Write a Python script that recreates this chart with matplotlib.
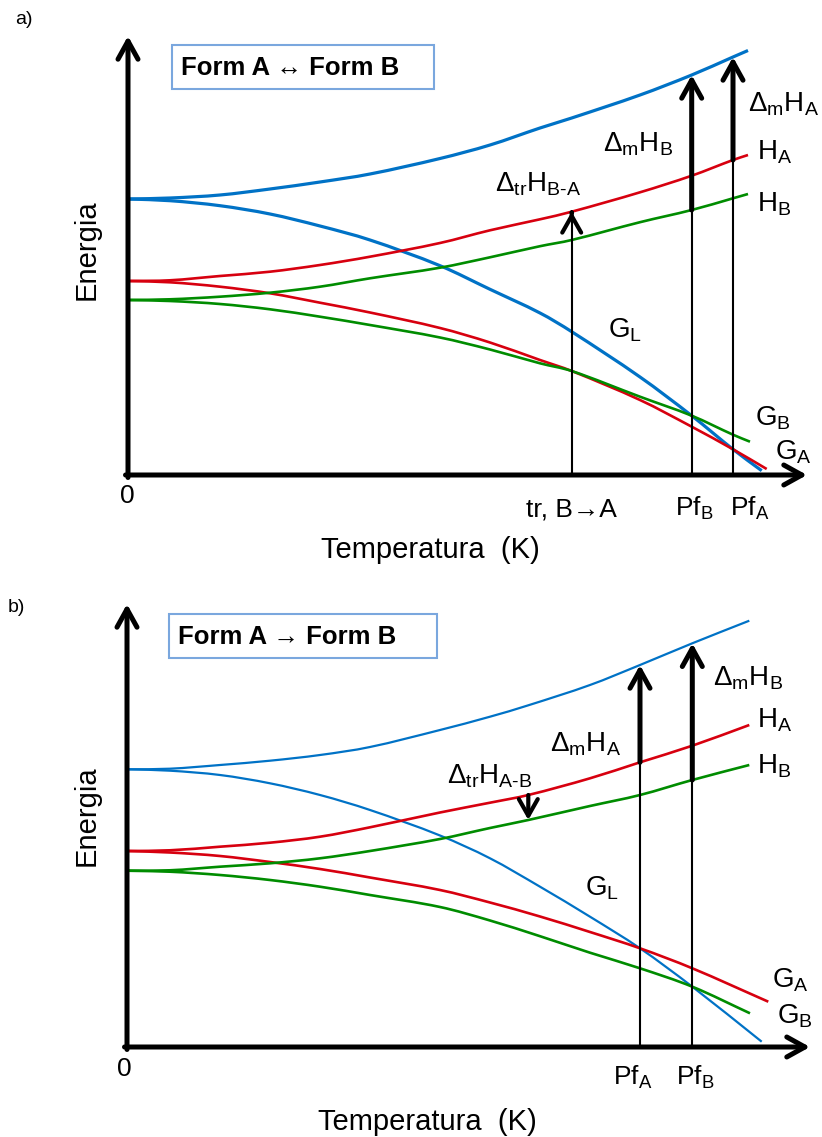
import matplotlib
matplotlib.use("Agg")
import matplotlib.pyplot as plt
from matplotlib.patches import Rectangle, PathPatch
from matplotlib.path import Path
import numpy as np

plt.rcParams["font.family"] = ["Liberation Sans", "DejaVu Sans"]
plt.rcParams["mathtext.fontset"] = "custom"
plt.rcParams["mathtext.rm"] = "Liberation Sans"
plt.rcParams["mathtext.it"] = "Liberation Sans:italic"
plt.rcParams["mathtext.bf"] = "Liberation Sans:bold"

BLUE = "#0072C6"
RED = "#D7000F"
GREEN = "#008C00"

# ---- panel a: Form A <-> Form B (arbitrary units)
T_H_a = [0, 42, 92, 142, 192, 242, 312, 362, 412, 443.7, 512, 563.7, 605, 620]
HL_a = [276, 277, 280, 286, 293, 301, 316.5, 330, 347, 357, 380, 400, 418, 424.5]
HA_a = [194, 194.7, 199, 203.3, 210, 218.3, 232, 244.7, 255.7, 263.3, 282.7, 299.3, 315, 320]
HB_a = [175, 175.7, 178.3, 182.3, 188.3, 196.7, 207.3, 217.7, 228.8, 235, 252.8, 265, 276.7, 281]

T_GL_a = [0, 42, 92, 142, 192, 242, 312, 362, 412, 443.7, 512, 563.7, 605, 633.7]
GL_a = [276, 274.3, 269.3, 261, 249, 235, 209.3, 185.7, 162, 143.3, 98, 59.3, 25.7, 4.3]
T_GA_a = [0, 42, 92, 142, 192, 242, 312, 362, 412, 443.7, 512, 563.7, 605, 638.7]
GA_a = [194, 192.7, 188.3, 181.7, 172.3, 162.5, 147, 132.5, 115, 104, 75, 48.3, 25.7, 6]
T_GB_a = [0, 42, 92, 142, 192, 242, 312, 362, 412, 443.7, 512, 563.7, 605, 622]
GB_a = [175, 174, 171, 165.7, 158.3, 150, 137.5, 125.5, 111.7, 104, 78.3, 59.3, 40.3, 33.3]

tr_a, pfB_a, pfA_a = 443.7, 563.7, 605

# ---- panel b: Form A -> Form B
T_H_b = [0, 43, 93, 143, 193, 243, 313, 363, 401.3, 463, 513, 565.3, 622.3]
HL_b = [277.7, 278.3, 282, 286.3, 292, 300, 317, 330.3, 341.7, 362, 382, 403.7, 426.3]
HA_b = [196, 196.7, 200.3, 204.3, 210.3, 219.7, 234.5, 244.3, 252, 268.7, 284.7, 301.3, 322]
HB_b = [176.3, 176.7, 180.3, 183.7, 188.7, 196, 208, 219, 227, 241, 252, 267, 282]

T_GL_b = [0, 43, 93, 143, 193, 243, 313, 363, 413, 463, 513, 565.3, 634.7]
GL_b = [277.7, 276.3, 272, 263.7, 252, 237, 211.5, 188.7, 160.3, 130.3, 98.7, 60.3, 5.3]
T_GA_b = [0, 43, 93, 143, 193, 243, 313, 363, 413, 463, 513, 565.3, 641.3]
GA_b = [196, 194.5, 191, 185, 178, 169.5, 157, 144.5, 130.5, 115, 98.7, 78.7, 45.3]
T_GB_b = [0, 43, 93, 143, 193, 243, 313, 363, 413, 463, 513, 565.3, 623]
GB_b = [176.3, 175.3, 172, 167, 160.3, 152, 140, 126.5, 110.8, 94.3, 78.7, 60.3, 33.7]

tr_b, pfA_b, pfB_b = 401.3, 513, 565.3


def smooth_path(t, e):
    # cubic Bezier through every read point (Hermite tangents from neighbours)
    t = np.asarray(t, float)
    e = np.asarray(e, float)
    m = np.empty_like(e)
    m[1:-1] = (e[2:] - e[:-2]) / (t[2:] - t[:-2])
    m[0] = (e[1] - e[0]) / (t[1] - t[0])
    m[-1] = (e[-1] - e[-2]) / (t[-1] - t[-2])
    verts = [(t[0], e[0])]
    codes = [Path.MOVETO]
    for i in range(len(t) - 1):
        h = (t[i + 1] - t[i]) / 3
        verts += [(t[i] + h, e[i] + h * m[i]), (t[i + 1] - h, e[i + 1] - h * m[i + 1]),
                  (t[i + 1], e[i + 1])]
        codes += [Path.CURVE4] * 3
    return Path(verts, codes)


def arrow(ax, x0, y0, x1, y1, lw, hl=0.65, hw=0.36):
    ax.annotate("", xy=(x1, y1), xytext=(x0, y0), annotation_clip=False,
                arrowprops=dict(arrowstyle=f"->,head_length={hl},head_width={hw}",
                                lw=lw, color="k", shrinkA=0, shrinkB=0,
                                mutation_scale=20), zorder=4)


def curves(ax, data, lw):
    for t, e, c in data:
        ax.add_patch(PathPatch(smooth_path(t, e), fill=False, ec=c, lw=lw,
                               clip_on=False, capstyle="butt", zorder=2))


def box(ax, x, y, w, h, txt):
    ax.add_patch(Rectangle((x, y), w, h, fill=False, ec="#7AA7DE", lw=1.5, clip_on=False))
    ax.text(x + 9, y + h / 2 - 1, txt, fontsize=18.5, fontweight="bold", va="center", ha="left")


fig = plt.figure(figsize=(8.22, 11.37), dpi=100)
H = 1137.0
W = 822.0
FS = 20

# ---------------- panel a
axa = fig.add_axes([128 / W, (H - 475) / H, 700 / W, 445 / H])
axa.set_xlim(0, 700)
axa.set_ylim(0, 445)
axa.axis("off")
arrow(axa, 0, -2.5, 0, 439, 3.6)
arrow(axa, -2.5, 0, 679, 0, 3.6)

curves(axa, [(T_H_a, HL_a, BLUE), (T_GL_a, GL_a, BLUE)], 2.3)
curves(axa, [(T_H_a, HA_a, RED), (T_GA_a, GA_a, RED),
             (T_H_a, HB_a, GREEN), (T_GB_a, GB_a, GREEN)], 1.9)

# transition arrow (thin shaft, bold head)
top = np.interp(tr_a, T_H_a, HA_a)
axa.plot([tr_a, tr_a], [0, top], color="k", lw=1.5, zorder=3)
arrow(axa, tr_a, top - 1, tr_a, top, 3.0, 0.6, 0.34)
# melting arrows
for t, base in [(pfB_a, HB_a), (pfA_a, HA_a)]:
    y0 = np.interp(t, T_H_a, base)
    y1 = np.interp(t, T_H_a, HL_a)
    axa.plot([t, t], [0, y0], color="k", lw=1.5, zorder=3)
    arrow(axa, t, y0, t, y1, 3.6)

box(axa, 44, 386, 262, 44, "Form A \u2194 Form B")
axa.text(620, 363, r"$\mathrm{\Delta}_\mathrm{m}\mathrm{H}_\mathrm{A}$", fontsize=FS, va="baseline")
axa.text(475, 323, r"$\mathrm{\Delta}_\mathrm{m}\mathrm{H}_\mathrm{B}$", fontsize=FS, va="baseline")
axa.text(367, 283, r"$\mathrm{\Delta}_\mathrm{tr}\mathrm{H}_\mathrm{B\text{-}A}$", fontsize=FS, va="baseline")
axa.text(629, 315, r"$\mathrm{H}_\mathrm{A}$", fontsize=FS, va="baseline")
axa.text(629, 263, r"$\mathrm{H}_\mathrm{B}$", fontsize=FS, va="baseline")
axa.text(480, 138, r"$\mathrm{G}_\mathrm{L}$", fontsize=FS, va="baseline")
axa.text(627, 50, r"$\mathrm{G}_\mathrm{B}$", fontsize=FS, va="baseline")
axa.text(647, 15, r"$\mathrm{G}_\mathrm{A}$", fontsize=FS, va="baseline")
axa.text(-1, -21, "0", fontsize=19, ha="center", va="center")
axa.text(tr_a, -41, "tr, B\u2192A", fontsize=FS - 1, ha="center", va="baseline")
axa.text(pfB_a - 17, -41, r"$\mathrm{Pf}_\mathrm{B}$", fontsize=FS - 1, ha="left", va="baseline")
axa.text(pfA_a - 3, -41, r"$\mathrm{Pf}_\mathrm{A}$", fontsize=FS - 1, ha="left", va="baseline")
axa.text(302, -75, "Temperatura  (K)", fontsize=21, ha="center", va="center")
axa.text(-41, 225, "Energia", fontsize=21, ha="center", va="center", rotation=90)
fig.text(15 / W, 1 - 20 / H, "a)", fontsize=14, va="center")

# ---------------- panel b
axb = fig.add_axes([127 / W, (H - 1047) / H, 700 / W, 445 / H])
axb.set_xlim(0, 700)
axb.set_ylim(0, 445)
axb.axis("off")
arrow(axb, 0, -2.5, 0, 443, 3.6)
arrow(axb, -2.5, 0, 683, 0, 3.6)

curves(axb, [(T_H_b, HL_b, BLUE), (T_GL_b, GL_b, BLUE)], 1.6)
curves(axb, [(T_H_b, HA_b, RED), (T_GA_b, GA_b, RED),
             (T_H_b, HB_b, GREEN), (T_GB_b, GB_b, GREEN)], 1.9)

# transition arrow A -> B (downwards)
arrow(axb, tr_b, np.interp(tr_b, T_H_b, HA_b), tr_b, np.interp(tr_b, T_H_b, HB_b), 3.0, 0.6, 0.34)
for t, base in [(pfA_b, HA_b), (pfB_b, HB_b)]:
    y0 = np.interp(t, T_H_b, base)
    y1 = np.interp(t, T_H_b, HL_b)
    axb.plot([t, t], [0, y0], color="k", lw=1.5, zorder=3)
    arrow(axb, t, y0, t, y1, 3.6)

box(axb, 42, 389, 268, 44, "Form A \u2192 Form B")
axb.text(586, 362, r"$\mathrm{\Delta}_\mathrm{m}\mathrm{H}_\mathrm{B}$", fontsize=FS, va="baseline")
axb.text(423, 295, r"$\mathrm{\Delta}_\mathrm{m}\mathrm{H}_\mathrm{A}$", fontsize=FS, va="baseline")
axb.text(320, 264, r"$\mathrm{\Delta}_\mathrm{tr}\mathrm{H}_\mathrm{A\text{-}B}$", fontsize=FS, va="baseline")
axb.text(630, 319, r"$\mathrm{H}_\mathrm{A}$", fontsize=FS, va="baseline")
axb.text(630, 274, r"$\mathrm{H}_\mathrm{B}$", fontsize=FS, va="baseline")
axb.text(458, 152, r"$\mathrm{G}_\mathrm{L}$", fontsize=FS, va="baseline")
axb.text(645, 60, r"$\mathrm{G}_\mathrm{A}$", fontsize=FS, va="baseline")
axb.text(650, 23, r"$\mathrm{G}_\mathrm{B}$", fontsize=FS, va="baseline")
axb.text(-3, -22, "0", fontsize=19, ha="center", va="center")
axb.text(pfA_b - 27, -38, r"$\mathrm{Pf}_\mathrm{A}$", fontsize=FS - 1, ha="left", va="baseline")
axb.text(pfB_b - 16, -38, r"$\mathrm{Pf}_\mathrm{B}$", fontsize=FS - 1, ha="left", va="baseline")
axb.text(300, -75, "Temperatura  (K)", fontsize=21, ha="center", va="center")
axb.text(-40, 231, "Energia", fontsize=21, ha="center", va="center", rotation=90)
fig.text(8 / W, 1 - 608 / H, "b)", fontsize=14, va="center")

fig.savefig("out.png", dpi=100, facecolor="white")
